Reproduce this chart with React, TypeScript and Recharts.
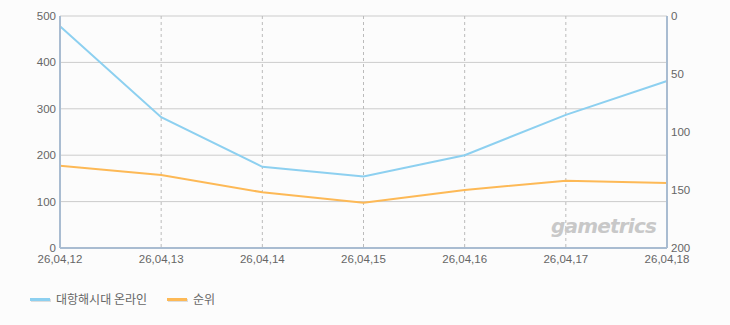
import React from "react";
import { LineChart, Line, XAxis, YAxis, CartesianGrid } from "recharts";

const categories = ["26,04,12", "26,04,13", "26,04,14", "26,04,15", "26,04,16", "26,04,17", "26,04,18"];
const usersSeries = [478, 282, 175, 154, 200, 287, 360];
const rankSeries = [129, 137, 152, 161, 150, 142, 144];
const leftTicks = [0, 100, 200, 300, 400, 500];
const rightTicks = [0, 50, 100, 150, 200];

const seriesNames = { users: "대항해시대 온라인", rank: "순위" };
const colors = { users: "#8dd0f0", rank: "#fdb956" };

const data = categories.map((c, i) => ({ name: c, users: usersSeries[i], rank: rankSeries[i] }));

const tickStyle = { fill: "#666", fontSize: 11.5, fontFamily: "'Liberation Sans', Arial, sans-serif" };
const borderColor = "#a9bcd1";

const LegendBox = () => (
  <div style={{ position: "absolute", left: 30, top: 290, display: "flex", alignItems: "center", fontFamily: "'Noto Sans CJK KR', sans-serif", fontSize: 12, color: "#666", lineHeight: "18px" }}>
    {(["users", "rank"] as const).map((k) => (
      <div key={k} style={{ display: "flex", alignItems: "center", marginRight: 20 }}>
        <div style={{ width: 20, height: 3, background: colors[k], boxShadow: "1px 1px 0 #ddd", marginRight: 6 }} />
        <span>{seriesNames[k]}</span>
      </div>
    ))}
  </div>
);

export default function App() {
  return (
    <div style={{ position: "absolute", left: 0, top: 0, width: 730, height: 325, background: "#fcfcfc" }}>
      <LineChart width={730} height={325} data={data} margin={{ top: 16, right: 0, left: 0, bottom: 57 }}>
        <CartesianGrid yAxisId="left" horizontal={true} vertical={false} stroke="#cccccc" />
        <CartesianGrid yAxisId="left" horizontal={false} vertical={true} stroke="#bbbbbb" strokeDasharray="3 3" />
        <XAxis
          dataKey="name"
          interval={0}
          tickLine={false}
          tickSize={5}
          tick={tickStyle}
          height={20}
          axisLine={{ stroke: borderColor, strokeWidth: 2 }}
        />
        <XAxis xAxisId="top" dataKey="name" orientation="top" tick={false} tickLine={false} height={0} axisLine={{ stroke: borderColor, strokeWidth: 2 }} />
        <YAxis
          yAxisId="left"
          domain={[0, 500]}
          ticks={leftTicks}
          width={60}
          tickLine={false}
          tickSize={2}
          tick={tickStyle}
          axisLine={{ stroke: borderColor, strokeWidth: 2 }}
        />
        <YAxis
          yAxisId="right"
          orientation="right"
          reversed
          domain={[0, 200]}
          ticks={rightTicks}
          width={63}
          tickLine={false}
          tickSize={2}
          tick={tickStyle}
          axisLine={{ stroke: borderColor, strokeWidth: 2 }}
        />
        <Line yAxisId="left" type="linear" dataKey="users" name={seriesNames.users} stroke={colors.users} strokeWidth={2} dot={false} isAnimationActive={false} />
        <Line yAxisId="right" type="linear" dataKey="rank" name={seriesNames.rank} stroke={colors.rank} strokeWidth={2} dot={false} isAnimationActive={false} />
      </LineChart>
      <LegendBox />
      <div
        style={{
          position: "absolute",
          left: 551,
          top: 214,
          fontFamily: "'DejaVu Sans', sans-serif",
          fontStyle: "italic",
          fontWeight: "bold",
          fontSize: 20,
          color: "#c8c8c8",
          letterSpacing: -0.8,
        }}
      >
        gametrics
      </div>
    </div>
  );
}
